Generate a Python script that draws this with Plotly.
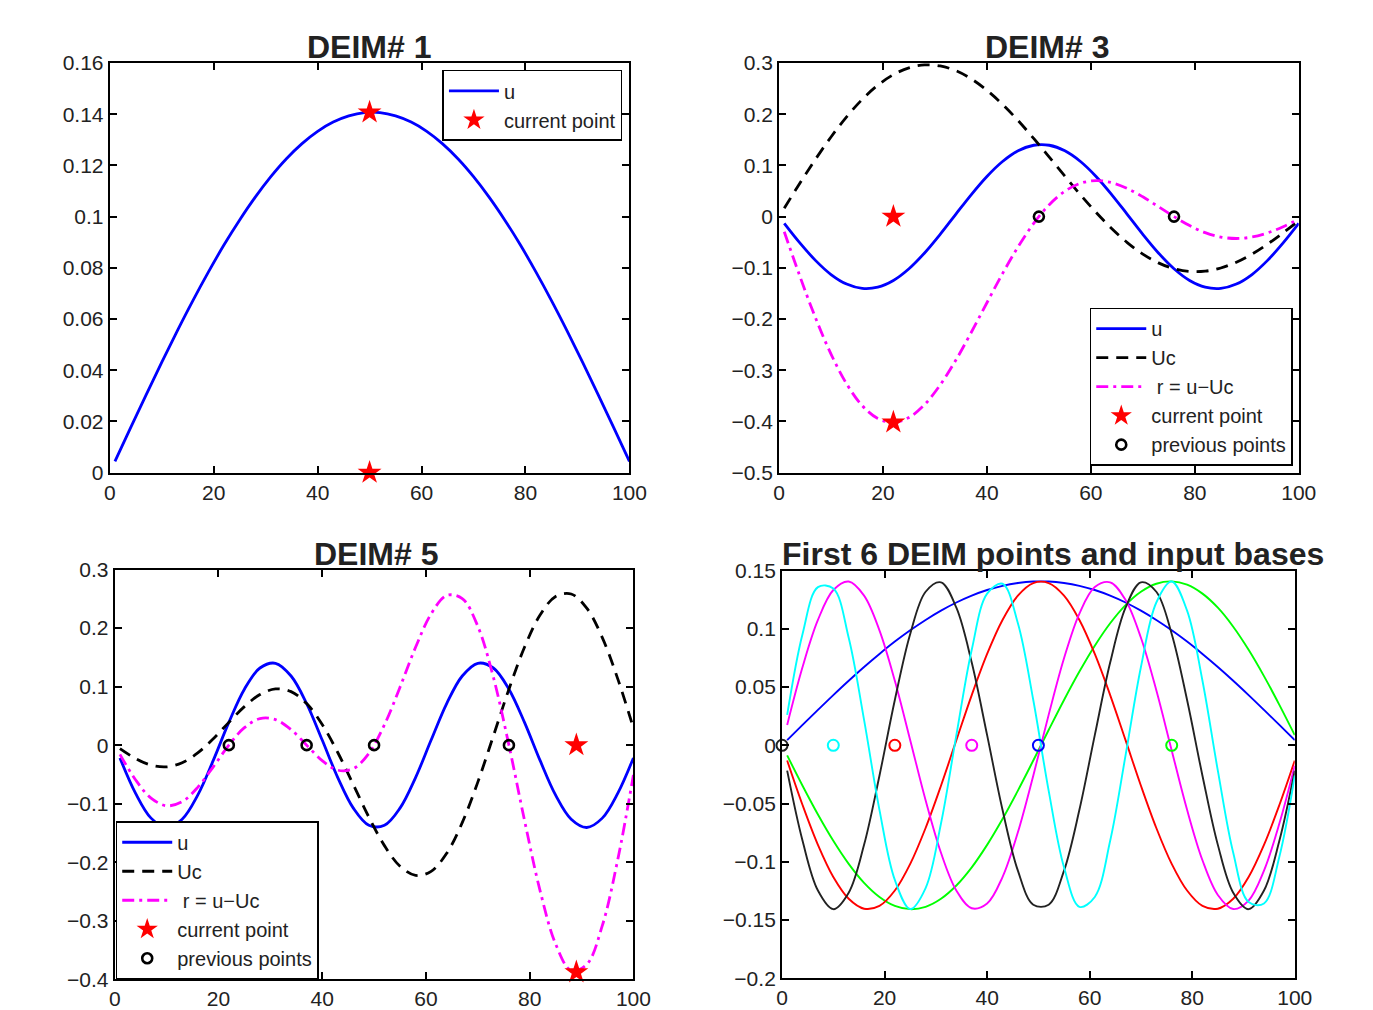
import plotly.graph_objects as go

# ---------------- data ----------------
x = [1, 4, 7, 10, 13, 16, 19, 22, 25, 28, 31, 34, 37, 40, 43, 46, 49, 52, 55, 58,
     61, 64, 67, 70, 73, 76, 79, 82, 85, 88, 91, 94, 97, 100]

basis1 = [0.0044, 0.0175, 0.0304, 0.0431, 0.0554, 0.0672, 0.0784, 0.0890, 0.0987, 0.1076,
          0.1156, 0.1226, 0.1285, 0.1333, 0.1369, 0.1393, 0.1406, 0.1406, 0.1393, 0.1369,
          0.1333, 0.1285, 0.1226, 0.1156, 0.1076, 0.0987, 0.0890, 0.0784, 0.0672, 0.0554,
          0.0431, 0.0304, 0.0175, 0.0044]
basis2 = [-0.0087, -0.0347, -0.0594, -0.0820, -0.1018, -0.1181, -0.1302, -0.1379, -0.1407, -0.1387,
          -0.1318, -0.1204, -0.1048, -0.0855, -0.0633, -0.0389, -0.0131, 0.0131, 0.0389, 0.0633,
          0.0855, 0.1048, 0.1204, 0.1318, 0.1387, 0.1407, 0.1379, 0.1302, 0.1181, 0.1018,
          0.0820, 0.0594, 0.0347, 0.0087]
basis3 = [-0.0131, -0.0513, -0.0855, -0.1131, -0.1318, -0.1403, -0.1379, -0.1247, -0.1018, -0.0710,
          -0.0347, 0.0044, 0.0431, 0.0784, 0.1076, 0.1285, 0.1393, 0.1393, 0.1285, 0.1076,
          0.0784, 0.0431, 0.0044, -0.0347, -0.0710, -0.1018, -0.1247, -0.1379, -0.1403, -0.1318,
          -0.1131, -0.0855, -0.0513, -0.0131]
basis4 = [0.0175, 0.0672, 0.1076, 0.1333, 0.1406, 0.1285, 0.0987, 0.0554, 0.0044, -0.0472,
          -0.0923, -0.1247, -0.1399, -0.1358, -0.1131, -0.0747, -0.0261, 0.0261, 0.0747, 0.1131,
          0.1358, 0.1399, 0.1247, 0.0923, 0.0472, -0.0044, -0.0554, -0.0987, -0.1285, -0.1406,
          -0.1333, -0.1076, -0.0672, -0.0175]
basis5 = [-0.0218, -0.0820, -0.1247, -0.1407, -0.1266, -0.0855, -0.0261, 0.0389, 0.0956, 0.1318,
          0.1399, 0.1181, 0.0710, 0.0087, -0.0554, -0.1076, -0.1369, -0.1369, -0.1076, -0.0554,
          0.0087, 0.0710, 0.1181, 0.1399, 0.1318, 0.0956, 0.0389, -0.0261, -0.0855, -0.1266,
          -0.1407, -0.1247, -0.0820, -0.0218]
basis6 = [0.0261, 0.0956, 0.1358, 0.1346, 0.0923, 0.0218, -0.0554, -0.1156, -0.1406, -0.1226,
          -0.0672, 0.0087, 0.0820, 0.1302, 0.1387, 0.1048, 0.0389, -0.0389, -0.1048, -0.1387,
          -0.1302, -0.0820, -0.0087, 0.0672, 0.1226, 0.1406, 0.1156, 0.0554, -0.0218, -0.0923,
          -0.1346, -0.1358, -0.0956, -0.0261]

# DEIM# 3 panel
uc_3 = [0.0164, 0.0650, 0.1118, 0.1555, 0.1948, 0.2288, 0.2565, 0.2772, 0.2905, 0.2962,
        0.2942, 0.2850, 0.2689, 0.2466, 0.2191, 0.1874, 0.1526, 0.1161, 0.0790, 0.0426,
        0.0082, -0.0233, -0.0507, -0.0733, -0.0904, -0.1018, -0.1072, -0.1066, -0.1004, -0.0890,
        -0.0732, -0.0537, -0.0316, -0.0080]
r_3 = [-0.0295, -0.1163, -0.1973, -0.2685, -0.3266, -0.3691, -0.3943, -0.4019, -0.3923, -0.3672,
       -0.3289, -0.2806, -0.2258, -0.1682, -0.1114, -0.0589, -0.0133, 0.0233, 0.0495, 0.0650,
       0.0703, 0.0663, 0.0550, 0.0386, 0.0194, 0.0000, -0.0175, -0.0313, -0.0399, -0.0428,
       -0.0399, -0.0318, -0.0197, -0.0051]
# DEIM# 5 panel
uc_5 = [-0.0061, -0.0229, -0.0342, -0.0371, -0.0301, -0.0133, 0.0109, 0.0389, 0.0658, 0.0864,
        0.0961, 0.0915, 0.0710, 0.0353, -0.0126, -0.0675, -0.1230, -0.1717, -0.2068, -0.2226,
        -0.2156, -0.1848, -0.1324, -0.0632, 0.0157, 0.0956, 0.1673, 0.2224, 0.2541, 0.2583,
        0.2341, 0.1838, 0.1128, 0.0291]
r_5 = [-0.0157, -0.0591, -0.0905, -0.1036, -0.0966, -0.0722, -0.0370, 0.0000, 0.0298, 0.0454,
       0.0437, 0.0265, 0.0000, -0.0265, -0.0428, -0.0401, -0.0140, 0.0348, 0.0991, 0.1672,
       0.2243, 0.2558, 0.2505, 0.2031, 0.1161, 0.0000, -0.1284, -0.2485, -0.3396, -0.3850,
       -0.3748, -0.3085, -0.1948, -0.0509]

# DEIM points
cur1_x = [50, 50]
cur1_y = [0.1407, 0.0]
cur3_x = [22, 22]
cur3_y = [-0.4019, 0.0]
prev3_x = [50, 76]
cur5_x = [89, 89]
cur5_y = [-0.3880, 0.0]
prev5_x = [22, 37, 50, 76]
pts6_x = [50, 76, 22, 37, 0, 10]

titles = ["DEIM# 1", "DEIM# 3", "DEIM# 5", "First 6 DEIM points and input bases"]
xticks = [0, 20, 40, 60, 80, 100]
yticks1 = [0, 0.02, 0.04, 0.06, 0.08, 0.1, 0.12, 0.14, 0.16]
ytext1 = ["0", "0.02", "0.04", "0.06", "0.08", "0.1", "0.12", "0.14", "0.16"]
yticks2 = [-0.5, -0.4, -0.3, -0.2, -0.1, 0, 0.1, 0.2, 0.3]
ytext2 = ["\u22120.5", "\u22120.4", "\u22120.3", "\u22120.2", "\u22120.1", "0", "0.1", "0.2", "0.3"]
yticks3 = [-0.4, -0.3, -0.2, -0.1, 0, 0.1, 0.2, 0.3]
ytext3 = ["\u22120.4", "\u22120.3", "\u22120.2", "\u22120.1", "0", "0.1", "0.2", "0.3"]
yticks4 = [-0.2, -0.15, -0.1, -0.05, 0, 0.05, 0.1, 0.15]
ytext4 = ["\u22120.2", "\u22120.15", "\u22120.1", "\u22120.05", "0", "0.05", "0.1", "0.15"]

# ---------------- styling ----------------
W, H = 1373, 1010
BLUE, RED, GREEN, MAG, CYAN, BLK = "#0000ff", "#ff0000", "#00ff00", "#ff00ff", "#00ffff", "#000000"
FONT = "Liberation Sans, Arial, Helvetica, sans-serif"
TXT = "#222222"
DASH = "12px,8px"
DASHDOT = "12px,5px,3px,5px"
LW = 2.8
TICKFS = 21
LEGFS = 20
TITLEFS = 32


def PX(r):
    return (r - 3) / 0.985


def PY(r):
    return (r - 11) / 0.977


# panel boxes (target pixels): left, right, top, bottom
boxes = [(107, 628, 62, 472), (778, 1299, 62, 472), (112, 632, 569, 979), (781, 1295, 570, 978)]
title_cx = [367, 1047, 374, 1053]
title_cy = [46, 46, 553, 553]

fig = go.Figure()


def sp(name, xs, ys, color, ax, legend=None, dash=None, width=LW, show=True):
    fig.add_trace(go.Scatter(
        x=xs, y=ys, name=name, mode="lines", line=dict(color=color, width=width, dash=dash,
                                                           shape="spline", smoothing=1.0),
        xaxis="x" + ax, yaxis="y" + ax, legend=legend,
        showlegend=show, hoverinfo="skip"))


def stars(xs, ys, ax, legend):
    fig.add_trace(go.Scatter(
        x=xs, y=ys, name="current point", mode="markers",
        marker=dict(symbol="star", size=18, color=RED, line=dict(width=0)),
        xaxis="x" + ax, yaxis="y" + ax, legend=legend,
        cliponaxis=False, hoverinfo="skip"))


def circles(xs, ax, legend):
    fig.add_trace(go.Scatter(
        x=xs, y=[0] * len(xs), name="previous points", mode="markers",
        marker=dict(symbol="circle-open", size=10, color=BLK, line=dict(width=2.6, color=BLK)),
        xaxis="x" + ax, yaxis="y" + ax, legend=legend,
        cliponaxis=False, hoverinfo="skip"))


# Panel 1
sp("u", x, basis1, BLUE, "", legend="legend")
stars(cur1_x, cur1_y, "", "legend")

# Panel 2 (DEIM# 3) : u is the 3rd basis
sp("u", x, basis3, BLUE, "2", legend="legend2")
sp("Uc", x, uc_3, BLK, "2", legend="legend2", dash=DASH)
sp(" r = u\u2212Uc", x, r_3, MAG, "2", legend="legend2", dash=DASHDOT)
stars(cur3_x, cur3_y, "2", "legend2")
circles(prev3_x, "2", "legend2")

# Panel 3 (DEIM# 5) : u is the 5th basis
sp("u", x, basis5, BLUE, "3", legend="legend3")
sp("Uc", x, uc_5, BLK, "3", legend="legend3", dash=DASH)
sp(" r = u\u2212Uc", x, r_5, MAG, "3", legend="legend3", dash=DASHDOT)
stars(cur5_x, cur5_y, "3", "legend3")
circles(prev5_x, "3", "legend3")

# Panel 4: bases and points
cols4 = [BLUE, GREEN, RED, MAG, "#222222", CYAN]
for b, col in zip([basis1, basis2, basis3, basis4, basis5, basis6], cols4):
    sp("basis", x, b, col, "4", dash=None, width=1.9, show=False)
fig.add_trace(go.Scatter(
    x=pts6_x, y=[0] * len(pts6_x), mode="markers", showlegend=False,
    marker=dict(symbol="circle-open", size=11, color=cols4, line=dict(width=2, color=cols4)),
    xaxis="x4", yaxis="y4", cliponaxis=False, hoverinfo="skip"))

layout = dict(width=W, height=H, margin=dict(l=0, r=0, t=0, b=0),
              paper_bgcolor="white", plot_bgcolor="white",
              font=dict(family=FONT, size=TICKFS, color=TXT), hovermode=False)

yt = [(yticks1, ytext1, [0, 0.16]), (yticks2, ytext2, [-0.5, 0.3]),
      (yticks3, ytext3, [-0.4, 0.3]), (yticks4, ytext4, [-0.2, 0.15])]
for i, (bx, (tv, tt, rg)) in enumerate(zip(boxes, yt)):
    sfx = "" if i == 0 else str(i + 1)
    l, r, t, b = bx
    common = dict(showline=True, linecolor="black", linewidth=2, mirror="ticks",
                  ticks="inside", ticklen=7, tickwidth=1.5, tickcolor="black",
                  showgrid=False, zeroline=False, tickfont=dict(size=TICKFS, color=TXT, family=FONT))
    layout["xaxis" + sfx] = dict(domain=[PX(l) / W, PX(r) / W], range=[0, 100], tickvals=xticks,
                                 anchor="y" + sfx, **common)
    layout["yaxis" + sfx] = dict(domain=[1 - PY(b) / H, 1 - PY(t) / H], range=rg, tickvals=tv,
                                 ticktext=tt, anchor="x" + sfx, **common)

legcommon = dict(bgcolor="white", bordercolor="black", borderwidth=1.5,
                 font=dict(size=LEGFS, color=TXT, family=FONT), itemwidth=50,
                 traceorder="normal")
layout["legend"] = dict(x=PX(621) / W, y=1 - PY(69) / H, xanchor="right", yanchor="top", **legcommon)
layout["legend2"] = dict(x=PX(1293) / W, y=1 - PY(465) / H, xanchor="right", yanchor="bottom", **legcommon)
layout["legend3"] = dict(x=PX(113) / W, y=1 - PY(979) / H, xanchor="left", yanchor="bottom", **legcommon)

annotations = []
for ttl, cx, cy in zip(titles, title_cx, title_cy):
    annotations.append(dict(text="<b>" + ttl + "</b>", x=PX(cx) / W, y=1 - PY(cy) / H,
                            xref="paper", yref="paper", xanchor="center", yanchor="middle",
                            showarrow=False, font=dict(size=TITLEFS, color=TXT, family=FONT)))
layout["annotations"] = annotations
fig.update_layout(**layout)
fig.write_html("out.html")
